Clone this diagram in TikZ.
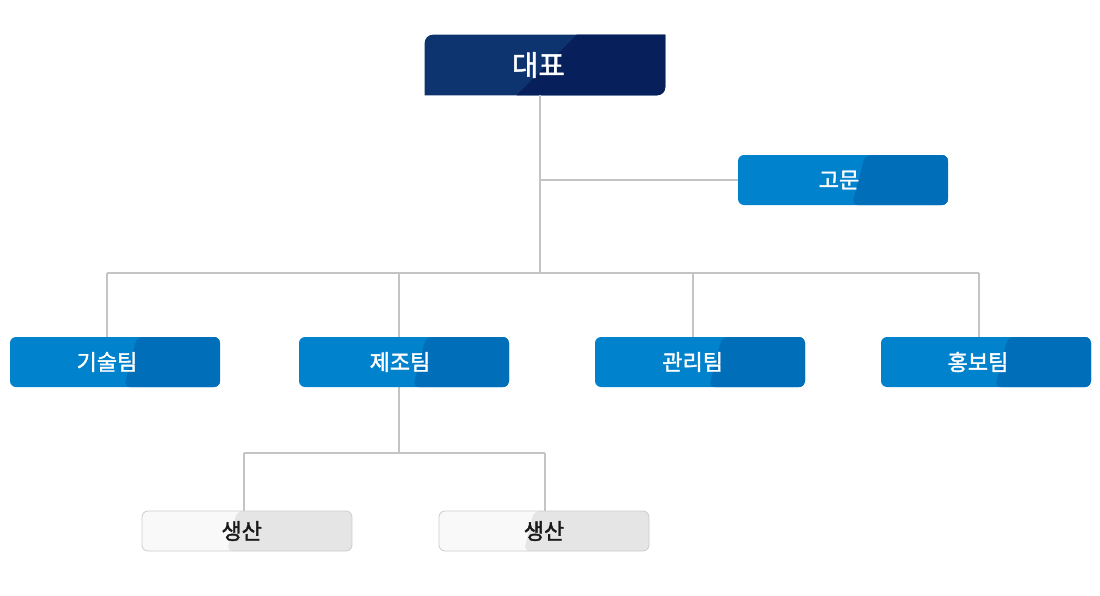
\documentclass[tikz,border=0pt]{standalone}
\usepackage{fontspec}
\setmainfont{Noto Sans CJK KR}
\newfontfamily\krm{Noto Sans CJK KR}[FakeBold=1.6]
\usetikzlibrary{backgrounds}
\definecolor{navyL}{RGB}{14,52,112}
\definecolor{navyR}{RGB}{7,31,90}
\definecolor{blueL}{RGB}{0,130,204}
\definecolor{blueR}{RGB}{0,110,184}
\definecolor{grayL}{RGB}{249,249,249}
\definecolor{grayR}{RGB}{229,229,229}
\definecolor{grayB}{RGB}{204,204,204}
\definecolor{linec}{RGB}{196,196,196}
\newcommand{\shl}[2]{\hspace*{#1}#2}
\tikzset{
  conn/.style={draw=linec, line width=1.5pt},
  teambox/.style={rectangle, rounded corners=4.5pt, minimum width=157.5pt, minimum height=37.5pt,
    inner sep=0pt, fill=blueL, text=white, font=\krm\fontsize{16.5}{18}\selectfont,
    path picture={\fill[blueR] ([xshift=95.25pt]path picture bounding box.north west) -- (path picture bounding box.north east) -- (path picture bounding box.south east) -- ([xshift=85.5pt]path picture bounding box.south west) -- cycle;}},
  prodbox/.style={rectangle, rounded corners=4.5pt, minimum width=157.5pt, minimum height=30pt,
    inner sep=0pt, fill=grayL, draw=grayB, line width=0.6pt, text=black!90, font=\krm\fontsize{16.5}{18}\selectfont,
    path picture={\fill[grayR] ([xshift=71.25pt]path picture bounding box.north west) -- (path picture bounding box.north east) -- (path picture bounding box.south east) -- ([xshift=63.75pt]path picture bounding box.south west) -- cycle;}},
  ceobox/.style={rectangle, minimum width=180pt, minimum height=45pt, inner sep=0pt, text=white,
    font=\krm\fontsize{21.5}{24}\selectfont}
}
\begin{document}
\begin{tikzpicture}[x=0.75pt,y=-0.75pt]
\useasboundingbox (0,0) rectangle (1100,596);
\node[ceobox] (ceo) at (545,65) {\shl{-10pt}{대표}};
\begin{pgfonlayer}{background}
\fill[navyL] (ceo.south west) -- ([yshift=-6pt]ceo.north west) arc[start angle=180,end angle=90,radius=6pt] -- (ceo.north east) -- ([yshift=6pt]ceo.south east) arc[start angle=0,end angle=-90,radius=6pt] -- cycle;
\fill[navyR] ([xshift=114pt]ceo.north west) -- (ceo.north east) -- ([yshift=6pt]ceo.south east) arc[start angle=0,end angle=-90,radius=6pt] -- ([xshift=69pt]ceo.south west) -- cycle;
\end{pgfonlayer}
\node[teambox] (adv) at (843,180) {\shl{-6pt}{고문}};
\node[teambox] (tech) at (115,362) {\shl{-12pt}{기술팀}};
\node[teambox] (mfg) at (404,362) {\shl{-6pt}{제조팀}};
\node[teambox] (mgmt) at (700,362) {\shl{-11pt}{관리팀}};
\node[teambox] (pr) at (986,362) {\shl{-12pt}{홍보팀}};
\node[prodbox] (p1) at (247,531) {\shl{-8pt}{생산}};
\node[prodbox] (p2) at (544,531) {생산};
\coordinate (jt) at (540,273);
\coordinate (l1) at (107,273);
\coordinate (l2) at (399,273);
\coordinate (l3) at (693,273);
\coordinate (l4) at (979,273);
\coordinate (js) at (399,453);
\coordinate (s1) at (244,453);
\coordinate (s2) at (545,453);
\begin{pgfonlayer}{background}
\draw[conn] (ceo.south -| jt) -- (jt);
\draw[conn] (adv.west -| jt) -- (adv.west);
\draw[conn] (l1) -- (l4);
\draw[conn] (l1) -- (l1 |- tech.north);
\draw[conn] (l2) -- (l2 |- mfg.north);
\draw[conn] (l3) -- (l3 |- mgmt.north);
\draw[conn] (l4) -- (l4 |- pr.north);
\draw[conn] (mfg.south -| js) -- (js);
\draw[conn] (s1) -- (s2);
\draw[conn] (s1) -- (s1 |- p1.north);
\draw[conn] (s2) -- (s2 |- p2.north);
\end{pgfonlayer}
\end{tikzpicture}
\end{document}
